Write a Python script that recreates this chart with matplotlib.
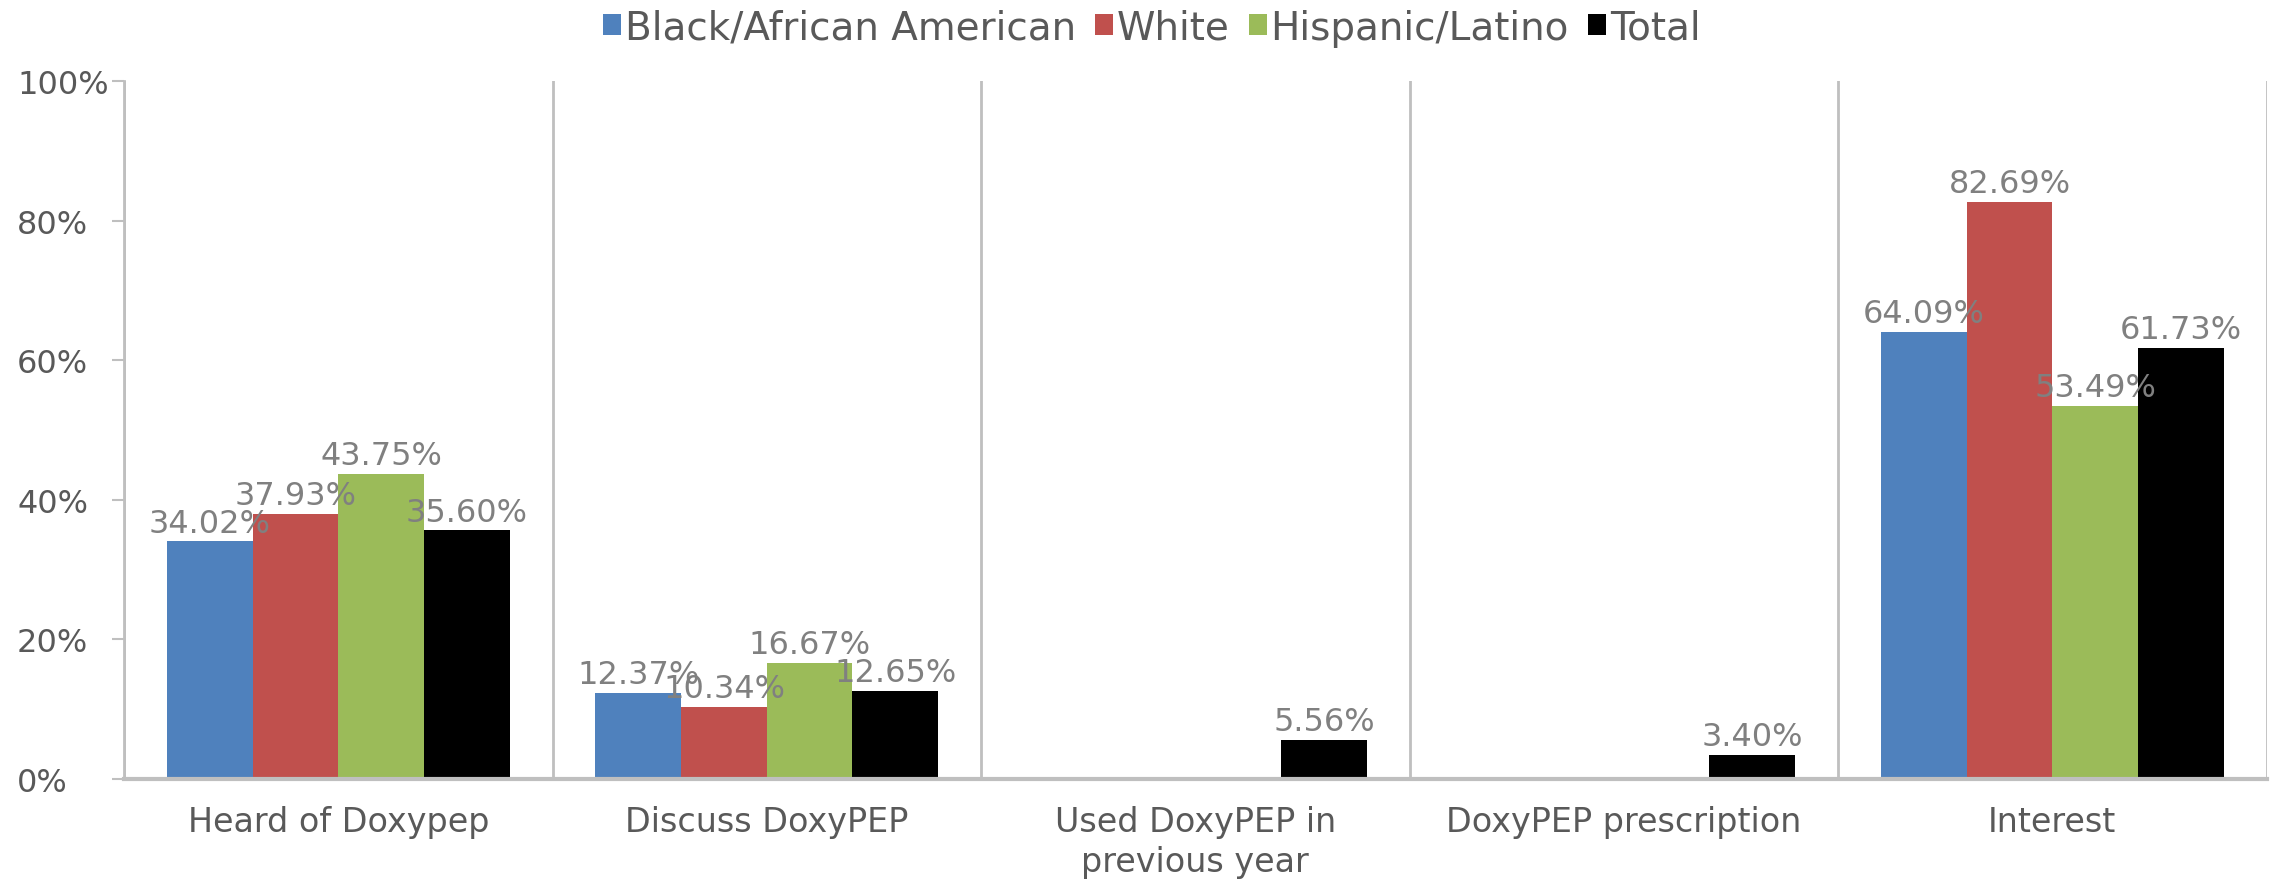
import matplotlib.pyplot as plt
import numpy as np

categories = ['Heard of Doxypep', 'Discuss DoxyPEP', 'Used DoxyPEP in\nprevious year',
              'DoxyPEP prescription', 'Interest']
groups = ['Black/African American', 'White', 'Hispanic/Latino', 'Total']
black = [34.02, 12.37, 0, 0, 64.09]
white = [37.93, 10.34, 0, 0, 82.69]
hispanic = [43.75, 16.67, 0, 0, 53.49]
total = [35.60, 12.65, 5.56, 3.40, 61.73]
colors = ['#4F81BD', '#C0504D', '#9BBB59', '#000000']

series = [black, white, hispanic, total]

fig = plt.figure(figsize=(22.72, 8.95), dpi=100)
ax = fig.add_axes([0.0546, 0.1285, 0.943, 0.78])

x = np.arange(len(categories))
w = 0.2
for i, vals in enumerate(series):
    bars = ax.bar(x + (i - 1.5) * w, vals, w, color=colors[i], label=groups[i])
    labs = ['%.2f%%' % v if v > 0 else '' for v in vals]
    ax.bar_label(bars, labels=labs, padding=2, fontsize=23, color='#808080')

ax.set_xlim(-0.5, len(categories) - 0.5)
ax.set_ylim(0, 100)
ax.set_yticks([0, 20, 40, 60, 80, 100])
ax.set_yticklabels(['0%', '20%', '40%', '60%', '80%', '100%'], ha='left')
ax.set_xticks(x)
ax.set_xticklabels(categories, linespacing=1.25)
ax.set_xticks(np.arange(len(categories) + 1) - 0.5, minor=True)
ax.grid(which='minor', axis='x', color='#bfbfbf', linewidth=2)
ax.tick_params(axis='x', which='both', length=0, pad=19, labelsize=24, labelcolor='#595959')
ax.tick_params(axis='y', length=9, color='#bfbfbf', width=1.5, labelsize=23,
               labelcolor='#595959', pad=68)

for s in ['top', 'right']:
    ax.spines[s].set_visible(False)
ax.spines['left'].set_color('#bfbfbf')
ax.spines['left'].set_linewidth(2)
ax.spines['bottom'].set_color('#bfbfbf')
ax.spines['bottom'].set_linewidth(3)

fig.legend(loc='center', bbox_to_anchor=(0.507, 0.968), ncol=4, frameon=False,
           fontsize=28, handlelength=0.45, handleheight=0.45, handletextpad=0.1,
           columnspacing=0.5, labelcolor='#595959')

plt.savefig('out.png', dpi=100)
